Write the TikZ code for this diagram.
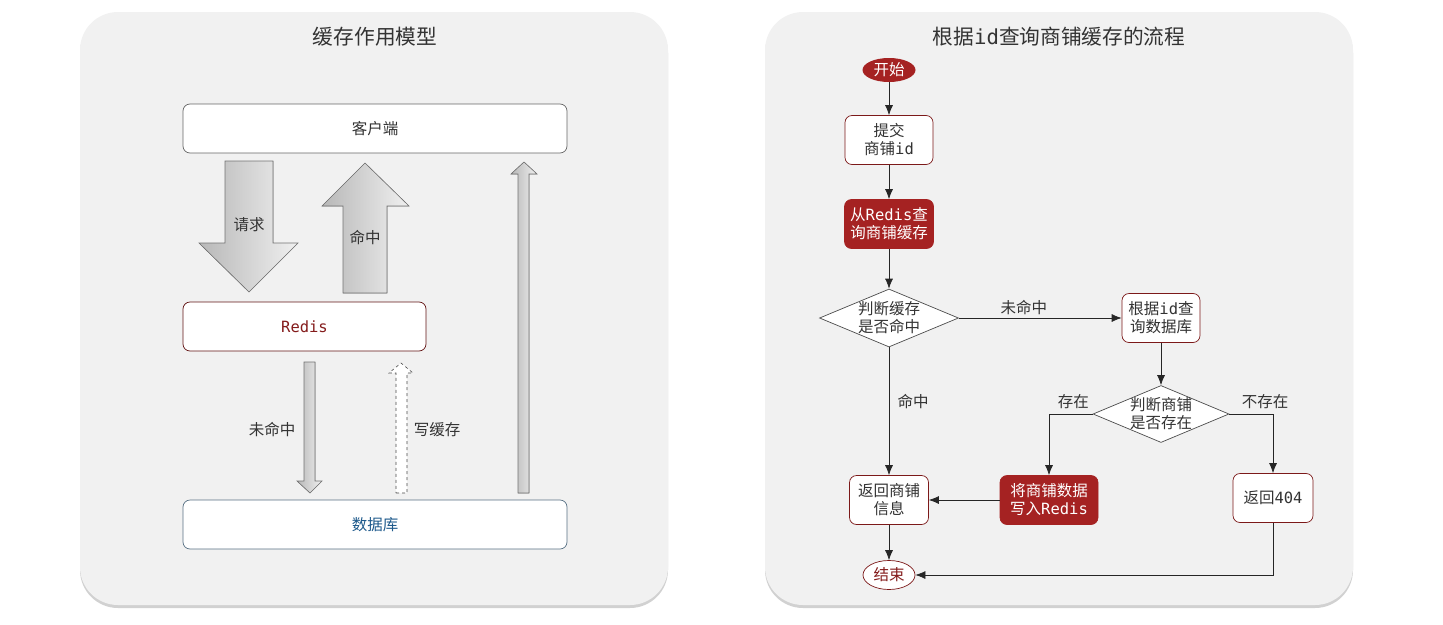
\documentclass[tikz,border=0pt]{standalone}
\usepackage{fontspec}
\setmainfont{Noto Sans CJK SC}
\setmonofont{DejaVu Sans Mono}
\usetikzlibrary{shapes.geometric,arrows.meta,shadows}
\definecolor{flowred}{RGB}{165,34,34}
\definecolor{panelgray}{RGB}{241,241,241}
\definecolor{dbblue}{RGB}{30,90,140}
\newcommand{\mono}[1]{{\ttfamily #1}}
\begin{document}
\begin{tikzpicture}[x=1pt,y=-1pt,
  every node/.style={font=\fontsize{15.5}{18}\selectfont,text=black!80},
  title/.style={font=\fontsize{20.7}{24}\selectfont},
  panel/.style={fill=panelgray,rounded corners=38,drop shadow={shadow xshift=0pt,shadow yshift=-3pt,opacity=.45,fill=black!40}},
  lbox/.style={draw=black!60,fill=white,rounded corners=7,line width=0.7pt,inner sep=0,minimum height=49},
  blk/.style={draw=black!55,left color=black!28,right color=black!6,line width=0.6pt},
  flow/.style={draw=flowred!75!black,fill=white,rounded corners=7,align=center,inner sep=0,line width=0.7pt,minimum height=49},
  redbox/.style={flow,fill=flowred,draw=flowred,text=white},
  term/.style={ellipse,inner sep=0,line width=0.7pt},
  decision/.style={diamond,draw=black!70,fill=white,inner sep=0,line width=0.7pt},
  link/.style={draw=black!85,line width=0.7pt,-{Latex[length=10pt,width=8pt]}}]
\useasboundingbox (0,0) rectangle (1443,624);
\fill[panel] (80,12) rectangle (668,605);
\fill[panel] (765,12) rectangle (1353,605);
\node[title] (lefttitle) at (375,37) {缓存作用模型};
\node[title] (righttitle) at (1059,37) {根据\mono{id}查询商铺缓存的流程};

\node[lbox,minimum width=384] (client) at (375,128.5) {客户端};
\node[lbox,minimum width=243,draw=flowred!60!black,text=flowred!80!black] (redis) at (304.5,326.5) {\mono{Redis}};
\node[lbox,minimum width=384,draw=dbblue!40!gray,text=dbblue] (db) at (375,524.5) {数据库};
\filldraw[blk] (225,161) -- (273,161) -- (273,243) -- (298,243) -- (249,292) -- (199,243) -- (225,243) -- cycle;
\filldraw[blk] (343,293) -- (387,293) -- (387,206) -- (409,206) -- (365,163) -- (322,206) -- (343,206) -- cycle;
\filldraw[blk] (518,493) -- (529,493) -- (529,174) -- (537,174) -- (524,162) -- (511,174) -- (518,174) -- cycle;
\filldraw[blk] (304,362) -- (315,362) -- (315,481) -- (322,481) -- (310,493) -- (297,481) -- (304,481) -- cycle;
\filldraw[draw=black!70,fill=white,dashed,line width=0.6pt] (396,493) -- (407,493) -- (407,373) -- (413,373) -- (401,363) -- (389,373) -- (396,373) -- cycle;
\node (request) at (249,225) {请求};
\node (hitlabel) at (365,238) {命中};
\node (misslabel) at (272,430) {未命中};
\node (writelabel) at (437,430) {写缓存};

\node[term,fill=flowred,text=white,minimum width=53,minimum height=24] (start) at (889,70) {开始};
\node[flow,minimum width=88] (submit) at (889,140) {提交\\商铺\mono{id}};
\node[redbox,minimum width=89] (query) at (889,224) {从\mono{Redis}查\\询商铺缓存};
\node[decision,minimum width=139,minimum height=58] (hit) at (889,318) {};
\node[align=center] (hittext) at (hit) {判断缓存\\是否命中};
\node[flow,minimum width=78] (dbq) at (1161,318) {根据\mono{id}查\\询数据库};
\node[decision,minimum width=136,minimum height=57] (store) at (1161,414) {};
\node[align=center] (storetext) at (store) {判断商铺\\是否存在};
\node[flow,minimum width=79] (ret) at (889,500) {返回商铺\\信息};
\node[redbox,minimum width=98] (write) at (1049,500) {将商铺数据\\写入\mono{Redis}};
\node[flow,minimum width=80] (r404) at (1273,498) {返回\mono{404}};
\node[term,draw=flowred!75!black,fill=white,text=flowred!80!black,minimum width=52,minimum height=29] (end) at (889,575) {结束};

\draw[link] (start) -- (submit);
\draw[link] (submit) -- (query);
\draw[link] (query) -- (hit);
\draw[link] (hit.east) -- node[pos=.4,above=0pt] (missflow) {未命中} (dbq.west);
\draw[link] (hit.south) -- node[pos=.42,right=5pt] (hitflow) {命中} (ret.north);
\draw[link] (dbq) -- (store);
\draw[link] (store.west) -| node[pos=.22,above=2pt] (yes) {存在} (write.north);
\draw[link] (store.east) -| node[pos=.41,above=2pt] (no) {不存在} (r404.north);
\draw[link] (write.west) -- (ret.east);
\draw[link] (ret) -- (end);
\draw[link] (r404.south) |- (end.east);
\end{tikzpicture}
\end{document}
